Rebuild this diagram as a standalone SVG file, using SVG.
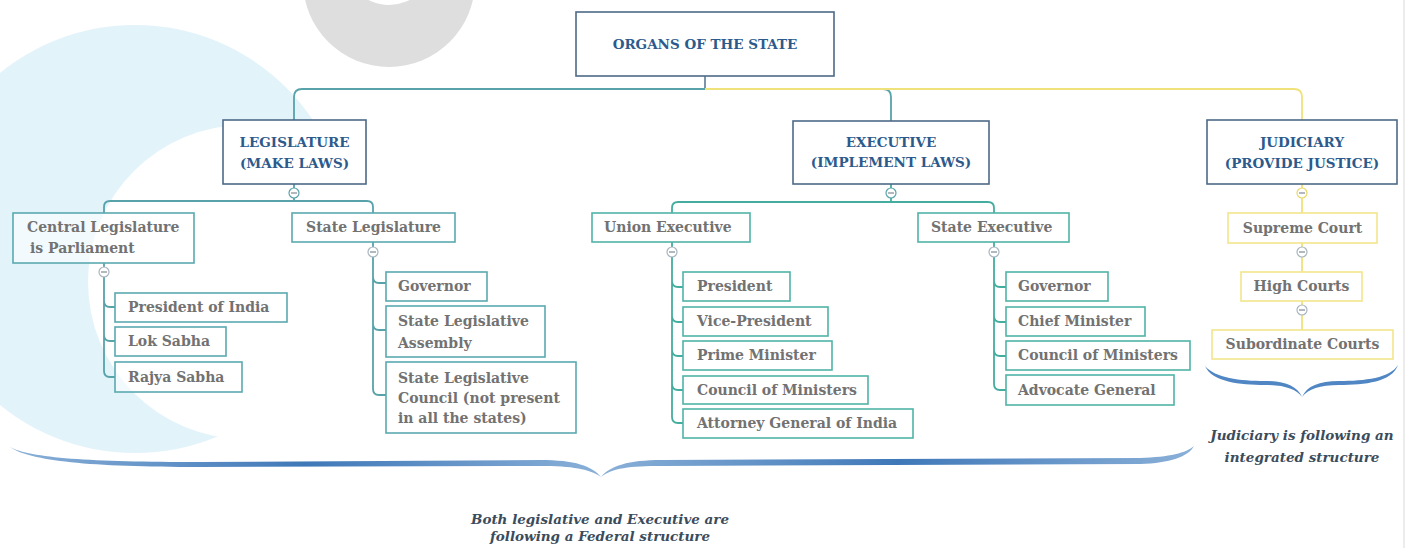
<svg xmlns="http://www.w3.org/2000/svg" width="1413" height="548" viewBox="0 0 1413 548">
<defs>
<style>
.hd{fill:#ffffff;stroke:#4d6a88;stroke-width:1.6}
.lb{fill:#ffffff;fill-opacity:0.6;stroke:#5aa9b0;stroke-width:1.6}
.lbe{fill:#ffffff;fill-opacity:0.6;stroke:#4fb3a7;stroke-width:1.6}
.lby{fill:#ffffff;fill-opacity:0.6;stroke:#f3e58a;stroke-width:1.6}
.ht{font-family:"DejaVu Serif","Liberation Serif",serif;font-weight:bold;font-size:13.5px;fill:#2c5a8c;text-anchor:middle}
.t{font-family:"DejaVu Serif","Liberation Serif",serif;font-weight:bold;font-size:14px;fill:#727272}
.tc{text-anchor:middle}
.it{font-family:"DejaVu Serif","Liberation Serif",serif;font-weight:bold;font-style:italic;font-size:13.5px;fill:#3b4c5c;text-anchor:middle}
.c1{fill:none;stroke:#58a2aa;stroke-width:1.8}
.c2{fill:none;stroke:#45ad9f;stroke-width:1.8}
.cy{fill:none;stroke:#f0e27a;stroke-width:1.8}
.col{fill:#ffffff;stroke:#a9b6c0;stroke-width:1.2}
.colt{fill:#ffffff;stroke:#5aa3a8;stroke-width:1.2}
.coly{fill:#ffffff;stroke:#e8d86a;stroke-width:1.2}
.mn{stroke:#7d8a94;stroke-width:1.2}
.brace{fill:#4f86c3}
</style>
<linearGradient id="bg" x1="0" y1="0" x2="1" y2="0">
<stop offset="0" stop-color="#8ab0d8"/>
<stop offset="0.5" stop-color="#3f78b8"/>
<stop offset="1" stop-color="#8ab0d8"/>
</linearGradient>
<mask id="cres">
<rect x="0" y="0" width="1413" height="548" fill="#000"/>
<circle cx="135" cy="239" r="214" fill="#fff"/>
<circle cx="245" cy="282" r="157" fill="#000"/>
</mask>
<linearGradient id="sh" x1="0" y1="0" x2="1" y2="0">
<stop offset="0" stop-color="#d6e4ea" stop-opacity="0"/>
<stop offset="1" stop-color="#cfdde3"/>
</linearGradient>
</defs>

<g id="watermark">
<rect x="0" y="0" width="1413" height="548" fill="#e2f3fa" mask="url(#cres)"/>
<circle cx="389" cy="-19" r="86" fill="#dedede"/>
<circle cx="389" cy="-40" r="45" fill="#ffffff"/>
<line x1="1404" y1="0" x2="1404" y2="548" stroke="#e6e6e6" stroke-width="1.5"/>
</g>

<g id="connectors">
<line x1="705" y1="76" x2="705" y2="89" stroke="#5a7a94" stroke-width="1.6"/>
<path class="c1" d="M294,120 V97 Q294,89 302,89 H883 Q891,89 891,97 V121"/>
<path class="cy" d="M705,89 H1294 Q1302,89 1302,97 V120"/>
<path class="c1" d="M294,184 V201 M104,213 V207 Q104,201 110,201 H367 Q373,201 373,207 V213"/>
<path class="c1" d="M104,263 V371 Q104,377 110,377 H115 M104,301 Q104,307 110,307 H115 M104,335 Q104,341 110,341 H115"/>
<path class="c1" d="M373,242 V389 Q373,395 379,395 H386 M373,277 Q373,283 379,283 H386 M373,324 Q373,330 379,330 H386"/>
<path class="c2" d="M891,184 V202 M672,213 V208 Q672,202 678,202 H988 Q994,202 994,208 V213"/>
<path class="c2" d="M672,242 V417 Q672,423 678,423 H683 M672,281 Q672,287 678,287 H683 M672,316 Q672,322 678,322 H683 M672,350 Q672,356 678,356 H683 M672,384 Q672,390 678,390 H683"/>
<path class="c2" d="M994,242 V384 Q994,390 1000,390 H1006 M994,281 Q994,287 1000,287 H1006 M994,316 Q994,322 1000,322 H1006 M994,350 Q994,356 1000,356 H1006"/>
<path class="cy" d="M1302,184 V213 M1302,243 V272 M1302,301 V330"/>
<circle class="colt" cx="294" cy="193" r="5"/><line class="mn" x1="291" y1="193" x2="297" y2="193"/>
<circle class="col" cx="104" cy="272" r="5"/><line class="mn" x1="101" y1="272" x2="107" y2="272"/>
<circle class="col" cx="373" cy="252" r="5"/><line class="mn" x1="370" y1="252" x2="376" y2="252"/>
<circle class="colt" cx="891" cy="193" r="5"/><line class="mn" x1="888" y1="193" x2="894" y2="193"/>
<circle class="col" cx="672" cy="252" r="5"/><line class="mn" x1="669" y1="252" x2="675" y2="252"/>
<circle class="col" cx="994" cy="252" r="5"/><line class="mn" x1="991" y1="252" x2="997" y2="252"/>
<circle class="coly" cx="1302" cy="193" r="5"/><line class="mn" x1="1299" y1="193" x2="1305" y2="193"/>
<circle class="col" cx="1302" cy="252" r="5"/><line class="mn" x1="1299" y1="252" x2="1305" y2="252"/>
<circle class="col" cx="1302" cy="310" r="5"/><line class="mn" x1="1299" y1="310" x2="1305" y2="310"/>
</g>

<g id="root"><rect class="hd" x="576" y="12" width="258" height="64"/><text class="ht" x="705" y="49">ORGANS OF THE STATE</text></g>

<g id="legislature"><rect class="hd" x="223" y="120" width="143" height="64"/><text class="ht" x="294.5" y="147">LEGISLATURE</text><text class="ht" x="294.5" y="168">(MAKE LAWS)</text></g>
<g id="central-leg"><rect class="lb" x="13" y="213" width="181" height="50"/><text class="t" x="27" y="232">Central Legislature</text><text class="t" x="30" y="253">is Parliament</text></g>
<g id="state-leg"><rect class="lb" x="292" y="213" width="163" height="29"/><text class="t tc" x="373.5" y="232">State Legislature</text></g>
<g id="pres-india"><rect class="lb" x="115" y="293" width="172" height="29"/><text class="t" x="128" y="312">President of India</text></g>
<g id="lok-sabha"><rect class="lb" x="115" y="327" width="111" height="29"/><text class="t" x="128" y="346">Lok Sabha</text></g>
<g id="rajya-sabha"><rect class="lb" x="115" y="362" width="127" height="30"/><text class="t" x="128" y="382">Rajya Sabha</text></g>
<g id="governor-l"><rect class="lb" x="386" y="272" width="101" height="29"/><text class="t" x="398" y="291">Governor</text></g>
<g id="sla"><rect class="lb" x="386" y="306" width="159" height="51"/><text class="t" x="398" y="326">State Legislative</text><text class="t" x="398" y="348">Assembly</text></g>
<g id="slc"><rect class="lb" x="386" y="362" width="190" height="71"/><text class="t" x="398" y="383">State Legislative</text><text class="t" x="398" y="403">Council (not present</text><text class="t" x="398" y="423">in all the states)</text></g>

<g id="executive"><rect class="hd" x="793" y="121" width="196" height="63"/><text class="ht" x="891" y="147">EXECUTIVE</text><text class="ht" x="891" y="167">(IMPLEMENT LAWS)</text></g>
<g id="union-exec"><rect class="lbe" x="592" y="213" width="158" height="29"/><text class="t" x="604" y="232">Union Executive</text></g>
<g id="president"><rect class="lbe" x="683" y="272" width="107" height="29"/><text class="t" x="697" y="291">President</text></g>
<g id="vice-president"><rect class="lbe" x="683" y="307" width="145" height="29"/><text class="t" x="697" y="326">Vice-President</text></g>
<g id="pm"><rect class="lbe" x="683" y="341" width="149" height="29"/><text class="t" x="697" y="360">Prime Minister</text></g>
<g id="com-u"><rect class="lbe" x="683" y="376" width="185" height="28"/><text class="t" x="697" y="395">Council of Ministers</text></g>
<g id="ag"><rect class="lbe" x="683" y="409" width="230" height="29"/><text class="t" x="697" y="428">Attorney General of India</text></g>
<g id="state-exec"><rect class="lbe" x="918" y="213" width="151" height="29"/><text class="t" x="931" y="232">State Executive</text></g>
<g id="governor-e"><rect class="lbe" x="1006" y="272" width="102" height="29"/><text class="t" x="1018" y="291">Governor</text></g>
<g id="cm"><rect class="lbe" x="1006" y="307" width="139" height="29"/><text class="t" x="1018" y="326">Chief Minister</text></g>
<g id="com-s"><rect class="lbe" x="1006" y="341" width="184" height="29"/><text class="t" x="1018" y="360">Council of Ministers</text></g>
<g id="advg"><rect class="lbe" x="1006" y="375" width="168" height="30"/><text class="t" x="1018" y="395">Advocate General</text></g>

<g id="judiciary"><rect class="hd" x="1207" y="120" width="190" height="64"/><text class="ht" x="1302" y="147">JUDICIARY</text><text class="ht" x="1302" y="168">(PROVIDE JUSTICE)</text></g>
<g id="supreme"><rect class="lby" x="1228" y="213" width="149" height="30"/><text class="t tc" x="1302.5" y="233">Supreme Court</text></g>
<g id="high"><rect class="lby" x="1241" y="272" width="121" height="29"/><text class="t tc" x="1301.5" y="291">High Courts</text></g>
<g id="subordinate"><rect class="lby" x="1212" y="330" width="181" height="29"/><text class="t tc" x="1302.5" y="349">Subordinate Courts</text></g>

<g id="braces">
<path fill="url(#bg)" d="M10,447 C30,458 90,462 200,462 L540,460 C575,460 592,466 601,477 C590,469 572,466 540,466 L200,467 C90,467 30,461 10,447 Z"/>
<path fill="url(#bg)" d="M601,477 C610,466 628,460 662,460 L1140,458 C1170,457 1186,453 1194,446 C1188,457 1170,463 1140,464 L662,466 C630,466 612,468 601,477 Z"/>
<path class="brace" d="M1205,366 C1215,378 1240,381 1265,381 C1285,381 1297,386 1302,397 C1307,386 1319,381 1339,381 C1365,381 1390,378 1398,365 C1392,382 1365,385 1339,385 C1320,385 1308,389 1302,397 C1296,389 1284,385 1265,385 C1240,385 1212,382 1205,366 Z"/>
</g>

<g id="notes">
<text class="it" x="1302" y="440">Judiciary is following an</text>
<text class="it" x="1302" y="462">integrated structure</text>
<text class="it" x="600" y="524">Both legislative and Executive are</text>
<text class="it" x="600" y="541">following a Federal structure</text>
</g>
</svg>
